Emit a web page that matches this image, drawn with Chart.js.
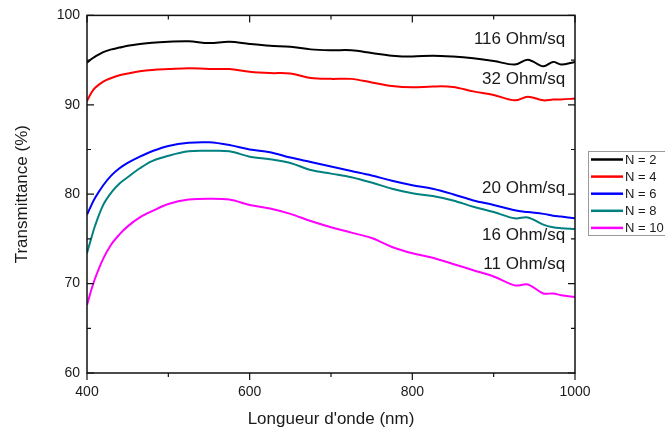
<!DOCTYPE html>
<html lang="fr">
<head>
<meta charset="UTF-8" />
<title>Transmittance</title>
<script src="https://cdn.jsdelivr.net/npm/chart.js"></script>
<style>
    html, body {
        margin: 0;
        padding: 0;
        background: #fff;
    }
    #wrap {
        width: 665px;
        height: 432px;
        position: relative;
    }
</style>
</head>
<body>
<div id="wrap"><canvas id="chart"></canvas></div>

<script>
    const wavelengths = [400, 405, 410, 420, 430, 440, 450, 465, 480, 500, 525, 550, 575, 600, 625, 650, 675, 700,
                         725, 750, 775, 800, 825, 850, 875, 900, 926, 942, 961, 973, 983, 1000];

    const seriesNames = ['N = 2', 'N = 4', 'N = 6', 'N = 8', 'N = 10'];
    const seriesColors = ['#000000', '#ff0000', '#0000ff', '#008080', '#ff00ff'];

    const n2 = [94.7, 95.1, 95.4, 95.9, 96.2, 96.4, 96.6, 96.8, 96.95, 97.05, 97.1, 96.9, 97.05, 96.8, 96.6, 96.5, 96.2, 96.1,
                96.1, 95.8, 95.5, 95.4, 95.5, 95.4, 95.2, 94.9, 94.5, 95.05, 94.3, 94.8, 94.5, 94.8];
    const n4 = [90.4, 91.3, 91.9, 92.6, 93.0, 93.3, 93.5, 93.75, 93.9, 94.0, 94.1, 94.0, 94.0, 93.7, 93.55, 93.5, 93.0, 92.9,
                92.9, 92.5, 92.1, 91.95, 92.05, 92.0, 91.5, 91.1, 90.5, 90.9, 90.5, 90.6, 90.6, 90.7];
    const n6 = [77.7, 78.7, 79.6, 81.0, 82.1, 82.9, 83.5, 84.2, 84.8, 85.4, 85.75, 85.8, 85.5, 85.0, 84.7, 84.1, 83.6, 83.1,
                82.6, 82.1, 81.5, 81.0, 80.6, 80.0, 79.3, 78.8, 78.2, 78.0, 77.8, 77.6, 77.5, 77.3];
    const n8 = [73.4, 75.0, 76.5, 78.8, 80.2, 81.2, 81.9, 82.9, 83.7, 84.3, 84.8, 84.85, 84.8, 84.2, 83.9, 83.5, 82.7, 82.3,
                81.9, 81.3, 80.6, 80.1, 79.8, 79.3, 78.6, 78.0, 77.3, 77.4, 76.6, 76.3, 76.2, 76.1];
    const n10 = [67.6, 69.2, 70.6, 72.8, 74.4, 75.5, 76.4, 77.4, 78.1, 78.9, 79.4, 79.5, 79.4, 78.8, 78.4, 77.8, 77.0, 76.3,
                 75.7, 75.1, 74.1, 73.4, 72.9, 72.2, 71.5, 70.8, 69.8, 69.9, 68.9, 68.9, 68.7, 68.5];

    const allSeries = [n2, n4, n6, n8, n10];

    // sheet resistance labels, placed at (wavelength, transmittance)
    const noteTexts = ['116 Ohm/sq', '32 Ohm/sq', '20 Ohm/sq', '16 Ohm/sq', '11 Ohm/sq'];
    const noteX = [988, 988, 988, 988, 988];
    const noteY = [97.3, 92.9, 80.7, 75.35, 72.2];

    const xMajor = 200, xMinor = 100;
    const yMajor = 10, yMinor = 5;

    // frame + ticks (left/top/right inward, bottom outward), notes and legend box
    const decorPlugin = {
        id: 'decor',
        afterDraw(chart) {
            const ctx = chart.ctx;
            const a = chart.chartArea;
            const xs = chart.scales.x, ys = chart.scales.y;
            ctx.save();
            ctx.strokeStyle = '#111';
            ctx.lineWidth = 1.5;
            ctx.strokeRect(a.left, a.top, a.right - a.left, a.bottom - a.top);

            ctx.lineWidth = 1.2;
            ctx.beginPath();
            for (let v = xs.min; v <= xs.max; v += xMinor) {
                const px = xs.getPixelForValue(v);
                const len = (v % xMajor === 0) ? 7 : 4;
                ctx.moveTo(px, a.bottom); ctx.lineTo(px, a.bottom + len);
                ctx.moveTo(px, a.top); ctx.lineTo(px, a.top + len);
            }
            for (let v = ys.min; v <= ys.max; v += yMinor) {
                const py = ys.getPixelForValue(v);
                const len = (v % yMajor === 0) ? 7 : 4;
                ctx.moveTo(a.left, py); ctx.lineTo(a.left + len, py);
                ctx.moveTo(a.right, py); ctx.lineTo(a.right - len, py);
            }
            ctx.stroke();

            // curve annotations
            ctx.fillStyle = '#1a1a1a';
            ctx.font = '17px Arial, "Liberation Sans", sans-serif';
            ctx.textAlign = 'right';
            ctx.textBaseline = 'middle';
            noteTexts.forEach((t, i) => {
                ctx.fillText(t, xs.getPixelForValue(noteX[i]), ys.getPixelForValue(noteY[i]));
            });

            // legend
            const lx = 588, ly = 151, rowH = 17.1;
            ctx.strokeStyle = '#9a9a9a';
            ctx.lineWidth = 1;
            ctx.strokeRect(lx + 0.5, ly + 0.5, 90, 84);
            ctx.font = '13px Arial, "Liberation Sans", sans-serif';
            ctx.textAlign = 'left';
            chart.data.datasets.forEach((ds, i) => {
                const y = ly + 8.5 + i * rowH;
                ctx.strokeStyle = ds.borderColor;
                ctx.lineWidth = 2.5;
                ctx.beginPath();
                ctx.moveTo(591, y); ctx.lineTo(623, y);
                ctx.stroke();
                ctx.fillStyle = '#1a1a1a';
                ctx.fillText(ds.label, 625, y + 0.5);
            });
            ctx.restore();
        }
    };

    const ctx = document.getElementById('chart').getContext('2d');
    new Chart(ctx, {
        type: 'line',
        data: {
            datasets: allSeries.map((vals, i) => ({
                label: seriesNames[i],
                data: vals.map((v, j) => ({ x: wavelengths[j], y: v })),
                borderColor: seriesColors[i],
                backgroundColor: seriesColors[i],
                borderWidth: 2,
                pointRadius: 0,
                tension: 0.35,
                fill: false
            }))
        },
        options: {
            responsive: true,
            maintainAspectRatio: false,
            animation: false,
            layout: { padding: { top: 15, right: 90, left: 0, bottom: 0 } },
            plugins: {
                legend: { display: false },
                tooltip: { enabled: false }
            },
            scales: {
                x: {
                    type: 'linear',
                    min: 400,
                    max: 1000,
                    afterFit: s => { s.height = 59; },
                    grid: { display: false, drawTicks: false },
                    border: { display: false },
                    ticks: {
                        stepSize: xMajor,
                        padding: 11,
                        color: '#1a1a1a',
                        callback: v => String(v),
                        font: { family: 'Arial, "Liberation Sans", sans-serif', size: 14 }
                    },
                    title: {
                        display: true,
                        text: "Longueur d'onde (nm)",
                        color: '#1a1a1a',
                        padding: { top: 0, bottom: 2 },
                        font: { family: 'Arial, "Liberation Sans", sans-serif', size: 17 }
                    }
                },
                y: {
                    min: 60,
                    max: 100,
                    afterFit: s => { s.width = 87; },
                    grid: { display: false, drawTicks: false },
                    border: { display: false },
                    ticks: {
                        stepSize: yMajor,
                        padding: 7,
                        color: '#1a1a1a',
                        callback: v => String(v),
                        font: { family: 'Arial, "Liberation Sans", sans-serif', size: 14 }
                    },
                    title: {
                        display: true,
                        text: 'Transmittance (%)',
                        color: '#1a1a1a',
                        padding: { top: 12, bottom: 0 },
                        font: { family: 'Arial, "Liberation Sans", sans-serif', size: 17 }
                    }
                }
            }
        },
        plugins: [decorPlugin]
    });
</script>
</body>
</html>
